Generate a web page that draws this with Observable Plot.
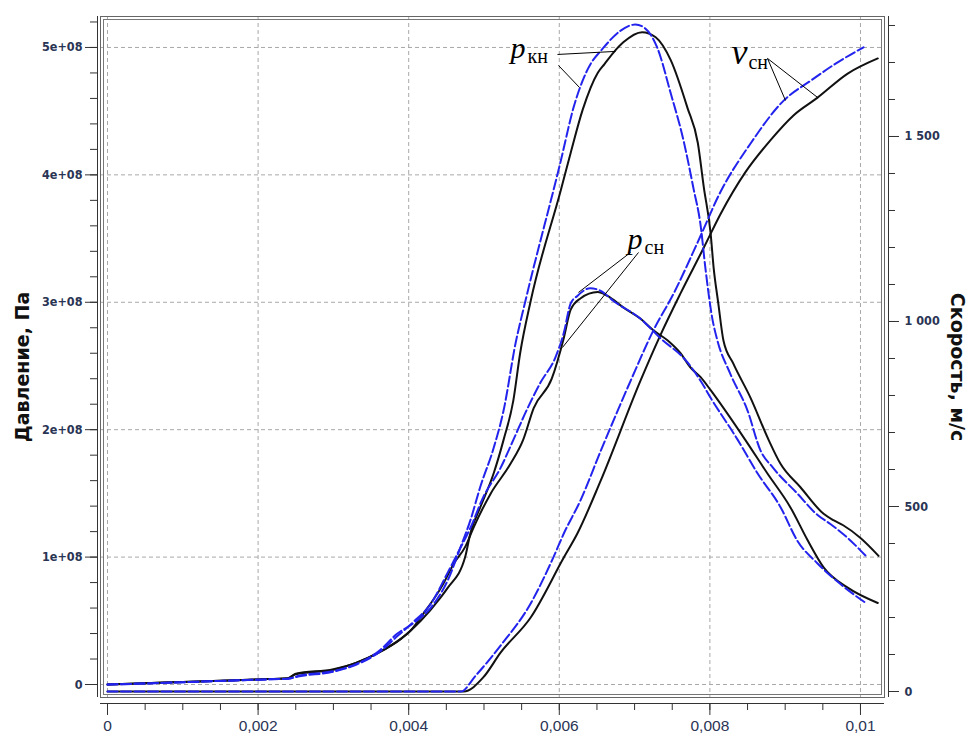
<!DOCTYPE html>
<html>
<head>
<meta charset="utf-8">
<script src="https://cdn.jsdelivr.net/npm/d3@7"></script>
<script src="https://cdn.jsdelivr.net/npm/@observablehq/plot@0.6"></script>
<style>
  html, body { margin: 0; padding: 0; background: #fff; }
  #chart svg { display: block; }
</style>
</head>
<body>
<div id="chart"></div>
<script>
// ---------- data (time in s, pressure in Pa, velocity in m/s) ----------
const pknBlack = [[0,0],[0.0005,1e6],[0.001,2e6],[0.0015,3e6],[0.002,4e6],[0.0024,5e6],[0.0025,8.5e6],[0.003,1.2e7],[0.0033,1.7e7],[0.0036,2.5e7],[0.0039,3.6e7],[0.00402,4.2e7],[0.00416,5.0e7],[0.00442,6.8e7],[0.00452,7.6e7],[0.00475,1.0e8],[0.00482,1.19e8],[0.00495,1.39e8],[0.00513,1.66e8],[0.00526,1.92e8],[0.00539,2.23e8],[0.00548,2.6e8],[0.00562,3.01e8],[0.00602,3.88e8],[0.00615,4.17e8],[0.00631,4.51e8],[0.00651,4.80e8],[0.0066,4.87e8],[0.00672,4.96e8],[0.00685,5.04e8],[0.0071,5.12e8],[0.00728,5.08e8],[0.00748,4.90e8],[0.0077,4.53e8],[0.00784,4.25e8],[0.00792,3.90e8],[0.00801,3.54e8],[0.00805,3.27e8],[0.00811,3.0e8],[0.00818,2.7e8],[0.00831,2.52e8],[0.00854,2.25e8],[0.00878,1.92e8],[0.00894,1.73e8],[0.0092,1.55e8],[0.00951,1.34e8],[0.00964,1.29e8],[0.00977,1.25e8],[0.01,1.15e8],[0.01024,1.01e8]];
const pknBlue = [[0,0],[0.0005,0.8e6],[0.001,1.8e6],[0.0015,2.8e6],[0.002,3.8e6],[0.0024,4.6e6],[0.00255,7e6],[0.003,1.05e7],[0.0033,1.6e7],[0.0036,2.6e7],[0.00385,4.0e7],[0.00406,4.8e7],[0.00429,6.0e7],[0.00452,8.2e7],[0.00469,1.08e8],[0.00482,1.29e8],[0.00495,1.55e8],[0.00513,1.86e8],[0.00526,2.15e8],[0.00542,2.68e8],[0.00555,3.01e8],[0.00602,4.11e8],[0.00619,4.53e8],[0.00637,4.82e8],[0.00659,5.0e8],[0.00681,5.13e8],[0.00701,5.18e8],[0.00714,5.15e8],[0.0073,5.0e8],[0.00748,4.64e8],[0.00765,4.27e8],[0.00778,3.9e8],[0.00788,3.59e8],[0.00794,3.27e8],[0.00803,2.88e8],[0.0081,2.7e8],[0.00827,2.44e8],[0.0085,2.15e8],[0.00867,1.84e8],[0.00884,1.7e8],[0.00916,1.5e8],[0.00943,1.33e8],[0.0096,1.26e8],[0.00983,1.15e8],[0.01007,1.01e8]];
const psnBlack = [[0,0],[0.0005,1e6],[0.001,2e6],[0.0015,3e6],[0.002,4e6],[0.0024,5e6],[0.0025,8e6],[0.003,1.15e7],[0.0033,1.7e7],[0.0036,2.5e7],[0.0039,3.6e7],[0.00402,4.2e7],[0.0042,5.6e7],[0.00445,7.8e7],[0.0046,9.5e7],[0.00475,1.08e8],[0.00486,1.23e8],[0.00509,1.5e8],[0.00535,1.73e8],[0.00552,1.92e8],[0.00566,2.17e8],[0.0059,2.4e8],[0.00606,2.72e8],[0.00615,2.94e8],[0.00628,3.03e8],[0.00651,3.08e8],[0.00664,3.05e8],[0.00685,2.96e8],[0.00708,2.87e8],[0.00725,2.78e8],[0.00744,2.7e8],[0.00761,2.6e8],[0.00774,2.49e8],[0.00788,2.41e8],[0.00801,2.31e8],[0.00847,1.92e8],[0.00876,1.66e8],[0.00907,1.39e8],[0.0093,1.13e8],[0.00951,0.92e8],[0.00983,0.76e8],[0.01023,0.64e8]];
const psnBlue = [[0,0],[0.0005,0.8e6],[0.001,1.8e6],[0.0015,2.8e6],[0.002,3.8e6],[0.0024,4.6e6],[0.00255,6.5e6],[0.003,1.0e7],[0.0033,1.55e7],[0.0036,2.5e7],[0.00385,3.8e7],[0.00406,4.9e7],[0.00429,6.3e7],[0.00452,8.8e7],[0.00465,1.03e8],[0.00482,1.23e8],[0.00499,1.47e8],[0.00522,1.7e8],[0.00539,1.92e8],[0.00558,2.17e8],[0.00575,2.37e8],[0.00595,2.57e8],[0.00606,2.76e8],[0.00615,2.99e8],[0.00624,3.05e8],[0.00641,3.11e8],[0.00655,3.09e8],[0.00672,3.01e8],[0.00708,2.87e8],[0.00734,2.72e8],[0.0077,2.53e8],[0.00788,2.38e8],[0.00801,2.25e8],[0.00837,1.92e8],[0.00863,1.66e8],[0.00894,1.39e8],[0.00916,1.13e8],[0.00943,0.95e8],[0.00973,0.79e8],[0.01007,0.64e8]];
const vsnBlack = [[0,0],[0.00473,0],[0.00499,38],[0.00522,105],[0.00562,200],[0.00606,362],[0.00624,427],[0.00655,570],[0.00708,841],[0.00734,962],[0.00761,1076],[0.00792,1200],[0.00814,1290],[0.00847,1403],[0.0088,1489],[0.00911,1557],[0.00943,1605],[0.00983,1670],[0.01023,1711]];
const vsnBlue = [[0,0],[0.00469,0],[0.00489,43],[0.00522,124],[0.00562,238],[0.00592,362],[0.00606,427],[0.00628,516],[0.00655,650],[0.00695,841],[0.00725,976],[0.00752,1076],[0.00784,1215],[0.00814,1350],[0.00854,1481],[0.00898,1597],[0.00934,1651],[0.00967,1697],[0.01004,1741]];

// ---------- axes ----------
const xDomain = [-0.000093, 0.010319];
const pDomain = [-1.02e7, 5.243e8];
const vDomain = [-16.2, 1824.3];
const xTicks = [0, 0.002, 0.004, 0.006, 0.008, 0.01];
const pTicks = [0, 1e8, 2e8, 3e8, 4e8, 5e8];
const vTicks = [0, 500, 1000, 1500];
const xMinor = d3.range(0, 0.0103, 0.0005);
const pMinor = d3.range(0, 5.21e8, 2e7);
const vMinor = d3.range(0, 1801, 100);
const yTitle = "Давление, Па";
const y2Title = "Скорость, м/с";

// ---------- annotations (data space) ----------
const labels = [
  {main: "p", sub: "кн", t: 0.005352, val: 4.914e8, size: 30},
  {main: "p", sub: "сн", t: 0.006906, val: 3.422e8, size: 30},
  {main: "v", sub: "сн", t: 0.008287, val: 4.874e8, size: 36}
];
const leaders = [
  {t1: 0.005976, v1: 4.945e8, t2: 0.006746, v2: 4.969e8},
  {t1: 0.005989, v1: 4.859e8, t2: 0.006268, v2: 4.686e8},
  {t1: 0.006946, v1: 3.391e8, t2: 0.006255, v2: 3.077e8},
  {t1: 0.007052, v1: 3.391e8, t2: 0.006042, v2: 2.645e8},
  {t1: 0.008765, v1: 4.914e8, t2: 0.009004, v2: 4.584e8},
  {t1: 0.008765, v1: 4.914e8, t2: 0.009429, v2: 4.608e8}
];

// velocity -> pressure-scale mapping for the secondary axis
const vToP = v => pDomain[0] + (v - vDomain[0]) / (vDomain[1] - vDomain[0]) * (pDomain[1] - pDomain[0]);
const pToV = p => vDomain[0] + (p - pDomain[0]) / (pDomain[1] - pDomain[0]) * (vDomain[1] - vDomain[0]);

const fmtP = p => p === 0 ? "0" : `${Math.round(p / 1e8)}e+08`;
const fmtV = v => d3.format(",")(Math.round(v)).replace(/,/g, " ");
const fmtX = t => t === 0 ? "0" : String(+t.toFixed(4)).replace(".", ",");

const BLACK = "#111111";
const BLUE = "#2323ee";
const DASH = "10,3.5";
const tickColor = "#2a3454";
const tickFont = "'DejaVu Sans Condensed', 'DejaVu Sans', sans-serif";

const lineP = (data, color, dash) => Plot.line(data, {
  x: d => d[0], y: d => d[1], stroke: color, strokeWidth: 2,
  strokeDasharray: dash, curve: "monotone-x"
});
const lineV = (data, color, dash) => Plot.line(data, {
  x: d => d[0], y: d => vToP(d[1]), stroke: color, strokeWidth: 2,
  strokeDasharray: dash, curve: "monotone-x"
});

const chart = Plot.plot({
  width: 969,
  height: 733,
  marginLeft: 100,
  marginRight: 85,
  marginTop: 16,
  marginBottom: 36,
  style: {background: "#fff", color: tickColor, fontFamily: "DejaVu Sans"},
  x: {domain: xDomain},
  y: {domain: pDomain},
  marks: [
    Plot.gridX(xTicks, {stroke: "#a8a8a8", strokeOpacity: 1, strokeDasharray: "4,3"}),
    Plot.gridY(pTicks, {stroke: "#a8a8a8", strokeOpacity: 1, strokeDasharray: "4,3"}),
    Plot.frame({stroke: "#666"}),
    Plot.frame({stroke: "#777", inset: 3}),

    lineP(pknBlack, BLACK, null),
    lineP(psnBlack, BLACK, null),
    lineV(vsnBlack, BLACK, null),
    lineP(pknBlue, BLUE, DASH),
    lineP(psnBlue, BLUE, DASH),
    lineV(vsnBlue, BLUE, DASH),

    Plot.link(leaders, {x1: "t1", y1: "v1", x2: "t2", y2: "v2", stroke: "#000", strokeWidth: 1}),
    Plot.text(labels, {x: "t", y: "val", text: "main", textAnchor: "start", lineAnchor: "bottom",
      fontFamily: "Liberation Serif", fontStyle: "italic", fontSize: "size", fill: "#000"}),
    Plot.text(labels, {x: "t", y: "val", text: "sub", textAnchor: "start", lineAnchor: "bottom",
      dx: 17, dy: 5, fontFamily: "Liberation Serif", fontSize: 20, fill: "#000"}),

    // spines
    Plot.ruleX([xDomain[0]], {dx: -3, stroke: "#333"}),
    Plot.ruleX([xDomain[1]], {dx: 4, stroke: "#333"}),
    Plot.ruleY([pDomain[0]], {dy: 6, stroke: "#333"}),

    // left axis
    Plot.axisY(pTicks, {anchor: "left", dx: -3, tickSize: 12, tickPadding: 3, tickFormat: fmtP,
      label: null, fontSize: 12.5, fontFamily: tickFont, fontWeight: "bold", stroke: "#333"}),
    Plot.axisY(pMinor, {anchor: "left", dx: -3, tickSize: 7, tickFormat: () => "", label: null, stroke: "#333"}),
    // right axis (velocity)
    Plot.axisY(vTicks.map(vToP), {anchor: "right", dx: 4, tickSize: 10, tickPadding: 6,
      tickFormat: p => fmtV(pToV(p)), label: null, fontSize: 12.5, fontFamily: tickFont, fontWeight: "bold", stroke: "#333"}),
    Plot.axisY(vMinor.map(vToP), {anchor: "right", dx: 4, tickSize: 6, tickFormat: () => "", label: null, stroke: "#333"}),
    // bottom axis
    Plot.axisX(xTicks, {anchor: "bottom", dy: 6, tickSize: 12, tickPadding: 4, tickFormat: fmtX,
      label: null, fontSize: 15.5, fontFamily: "Liberation Sans", stroke: "#333"}),
    Plot.axisX(xMinor, {anchor: "bottom", dy: 6, tickSize: 7, tickFormat: () => "", label: null, stroke: "#333"}),

    // axis titles
    Plot.text([yTitle], {frameAnchor: "left", textAnchor: "middle", rotate: -90, dx: -78, dy: 10,
      fontSize: 19, fontWeight: "bold", fontFamily: "DejaVu Sans", fill: "#111"}),
    Plot.text([y2Title], {frameAnchor: "right", textAnchor: "middle", rotate: 90, dx: 73, dy: 10,
      fontSize: 19, fontWeight: "bold", fontFamily: "DejaVu Sans", fill: "#111"})
  ]
});

document.getElementById("chart").appendChild(chart);
</script>
</body>
</html>
